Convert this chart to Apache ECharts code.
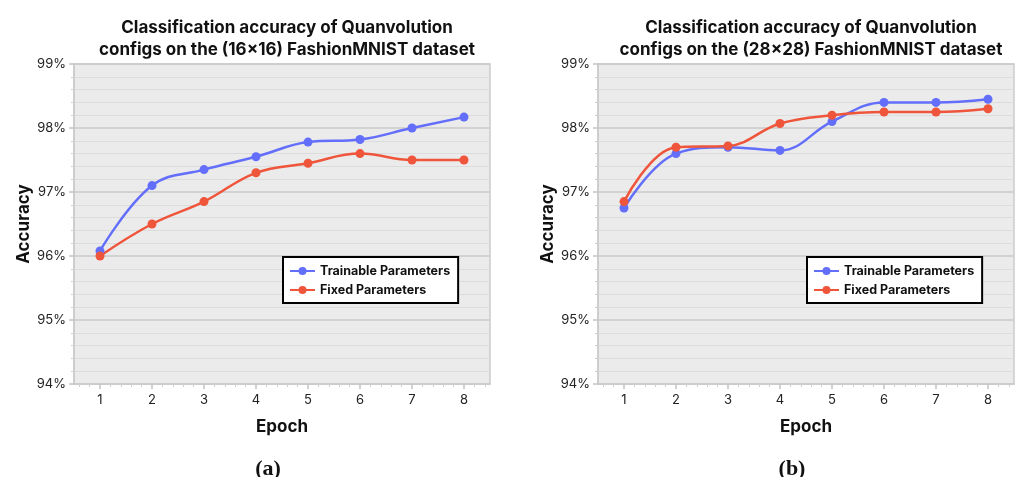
<!DOCTYPE html>
<html>
<head>
<meta charset="utf-8">
<script src="https://cdn.jsdelivr.net/npm/echarts@6/dist/echarts.min.js"></script>
<style>
  html, body { margin: 0; padding: 0; background: #fff; }
  #chart { width: 1019px; height: 477px; }
</style>
</head>
<body>
<div id="chart"></div>
<script>
// Epochs on the x axis
const epochs = [1, 2, 3, 4, 5, 6, 7, 8];

// Accuracy (%) for the 16x16 FashionMNIST runs
const trainable16 = [96.08, 97.10, 97.35, 97.55, 97.78, 97.82, 98.00, 98.17];
const fixed16     = [96.00, 96.50, 96.85, 97.30, 97.45, 97.60, 97.50, 97.50];

// Accuracy (%) for the 28x28 FashionMNIST runs
const trainable28 = [96.75, 97.60, 97.70, 97.65, 98.10, 98.40, 98.40, 98.45];
const fixed28     = [96.85, 97.70, 97.72, 98.07, 98.20, 98.25, 98.25, 98.30];

const seriesNames = ['Trainable Parameters', 'Fixed Parameters'];
const panelTitles = [
  'Classification accuracy of Quanvolution\nconfigs on the (16×16) FashionMNIST dataset',
  'Classification accuracy of Quanvolution\nconfigs on the (28×28) FashionMNIST dataset'
];
const panelTags = ['(a)', '(b)'];

const BLUE = '#636efa';
const RED = '#ef553b';
const FONT = 'Inter, "Noto Sans", sans-serif';

// minor tick positions between epochs (every 0.2)
const minorTicks = [];
for (let i = 3; i <= 42; i++) {
  const v = Math.round(i * 20) / 100;
  if (Math.abs(v - Math.round(v)) > 1e-6) minorTicks.push(v);
}

const grids = [
  { left: 74, top: 64, width: 416, height: 320 },
  { left: 598, top: 64, width: 416, height: 320 }
];

function pairs(ys) { return epochs.map((x, i) => [x, ys[i]]); }

const gridOpts = grids.map(g => Object.assign({
  show: true, backgroundColor: '#ebebeb', borderColor: '#cbcbcb', borderWidth: 1.5
}, g));

const xAxes = [];
const yAxes = [];
grids.forEach((g, gi) => {
  xAxes.push({
    type: 'value', gridIndex: gi, min: 0.5, max: 8.5,
    name: 'Epoch', nameLocation: 'middle', nameGap: 34,
    nameTextStyle: { fontFamily: FONT, fontWeight: 'bold', fontSize: 17, color: '#111' },
    axisLine: { show: true, lineStyle: { color: '#cbcbcb', width: 1.5 } },
    axisTick: { show: true, customValues: epochs, length: 5, lineStyle: { color: '#c4c4c4', width: 1.5 } },
    axisLabel: { customValues: epochs, fontFamily: FONT, fontSize: 13, color: '#222', margin: 10 },
    splitLine: { show: false }
  });
  xAxes.push({
    type: 'value', gridIndex: gi, min: 0.5, max: 8.5, position: 'bottom',
    axisLine: { show: false },
    axisTick: { show: true, customValues: minorTicks, length: 3, lineStyle: { color: '#d0d0d0', width: 1 } },
    axisLabel: { show: false },
    splitLine: { show: false }
  });
  yAxes.push({
    type: 'value', gridIndex: gi, min: 94, max: 99, interval: 1,
    name: 'Accuracy', nameLocation: 'middle', nameGap: 41, nameRotate: 90,
    nameTextStyle: { fontFamily: FONT, fontWeight: 'bold', fontSize: 17, color: '#111' },
    axisLine: { show: true, lineStyle: { color: '#cbcbcb', width: 1.5 } },
    axisTick: { show: true, length: 5, lineStyle: { color: '#c4c4c4', width: 1.5 } },
    minorTick: { show: true, splitNumber: 5, length: 3, lineStyle: { color: '#d0d0d0', width: 1 } },
    axisLabel: { formatter: '{value}%', fontFamily: FONT, fontSize: 13, color: '#222', margin: 8 },
    splitLine: { show: true, lineStyle: { color: '#cacaca', width: 1.5 } },
    minorSplitLine: { show: true, lineStyle: { color: '#dcdcdc', width: 1 } }
  });
});

function lineSeries(name, color, ys, gi) {
  return {
    type: 'line', name: name, xAxisIndex: gi * 2, yAxisIndex: gi,
    data: pairs(ys), smooth: 0.4,
    symbol: 'circle', symbolSize: 9,
    lineStyle: { color: color, width: 2.5 },
    itemStyle: { color: color },
    z: 3
  };
}

const series = [
  lineSeries(seriesNames[0], BLUE, trainable16, 0),
  lineSeries(seriesNames[1], RED, fixed16, 0),
  lineSeries(seriesNames[0], BLUE, trainable28, 1),
  lineSeries(seriesNames[1], RED, fixed28, 1)
];

function legendAt(left) {
  return {
    data: seriesNames, orient: 'vertical', left: left, top: 257,
    backgroundColor: '#fff', borderColor: '#000', borderWidth: 2, borderRadius: 0,
    padding: [7, 8, 6, 6], itemGap: 5, itemWidth: 25, itemHeight: 10,
    textStyle: { fontFamily: FONT, fontWeight: 'bold', fontSize: 12.5, color: '#111', lineHeight: 14 },
    selectedMode: false
  };
}

const titles = [];
grids.forEach((g, gi) => {
  titles.push({
    text: panelTitles[gi], left: g.left + g.width / 2, top: 12, textAlign: 'center',
    textStyle: { fontFamily: FONT, fontWeight: 'bold', fontSize: 17, color: '#111', lineHeight: 22 }
  });
  titles.push({
    text: panelTags[gi], left: g.left + g.width / 2 - 19, top: 453, textAlign: 'center',
    textStyle: { fontFamily: '"Liberation Serif", "DejaVu Serif", serif', fontWeight: 'bold', fontSize: 22, color: '#111' }
  });
});

const chart = echarts.init(document.getElementById('chart'), null, { renderer: 'canvas' });
chart.setOption({
  animation: false,
  backgroundColor: '#fff',
  title: titles,
  grid: gridOpts,
  xAxis: xAxes,
  yAxis: yAxes,
  legend: [legendAt(283), legendAt(807)],
  series: series
});
</script>
</body>
</html>
